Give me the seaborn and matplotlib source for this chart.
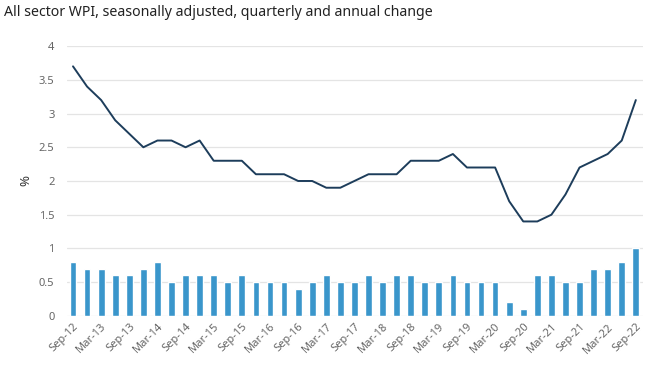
import numpy as np
import pandas as pd
import seaborn as sns
import matplotlib.pyplot as plt
from matplotlib.ticker import FuncFormatter

sns.set_theme(style="white")
plt.rcParams["font.family"] = ["Noto Sans", "DejaVu Sans"]

# quarters Sep-12 .. Sep-22
quarters = [
    "Sep-12", "Dec-12", "Mar-13", "Jun-13", "Sep-13", "Dec-13", "Mar-14", "Jun-14",
    "Sep-14", "Dec-14", "Mar-15", "Jun-15", "Sep-15", "Dec-15", "Mar-16", "Jun-16",
    "Sep-16", "Dec-16", "Mar-17", "Jun-17", "Sep-17", "Dec-17", "Mar-18", "Jun-18",
    "Sep-18", "Dec-18", "Mar-19", "Jun-19", "Sep-19", "Dec-19", "Mar-20", "Jun-20",
    "Sep-20", "Dec-20", "Mar-21", "Jun-21", "Sep-21", "Dec-21", "Mar-22", "Jun-22",
    "Sep-22",
]
quarterly_change = [
    0.8, 0.7, 0.7, 0.6, 0.6, 0.7, 0.8, 0.5, 0.6, 0.6, 0.6, 0.5, 0.6, 0.5, 0.5, 0.5,
    0.4, 0.5, 0.6, 0.5, 0.5, 0.6, 0.5, 0.6, 0.6, 0.5, 0.5, 0.6, 0.5, 0.5, 0.5, 0.2,
    0.1, 0.6, 0.6, 0.5, 0.5, 0.7, 0.7, 0.8, 1.0,
]
annual_change = [
    3.7, 3.4, 3.2, 2.9, 2.7, 2.5, 2.6, 2.6, 2.5, 2.6, 2.3, 2.3, 2.3, 2.1, 2.1, 2.1,
    2.0, 2.0, 1.9, 1.9, 2.0, 2.1, 2.1, 2.1, 2.3, 2.3, 2.3, 2.4, 2.2, 2.2, 2.2, 1.7,
    1.4, 1.4, 1.5, 1.8, 2.2, 2.3, 2.4, 2.6, 3.2,
]

df = pd.DataFrame({"quarter": quarters, "quarterly": quarterly_change,
                   "annual": annual_change})
df["pos"] = np.arange(len(df))

fig = plt.figure(figsize=(6.5, 3.66), dpi=100)
ax = fig.add_axes([0.103, 0.137, 0.886, 0.737])

sns.barplot(data=df, x="quarter", y="quarterly", color="#3a96cb",
            saturation=1, width=0.48, ax=ax, zorder=2)
sns.lineplot(data=df, x="pos", y="annual", color="#1d3d5b", linewidth=1.4,
             ax=ax, zorder=3)

ax.set_ylim(0, 4)
ax.set_xlim(-0.43, 40.5)
ax.set_yticks(np.arange(0, 4.01, 0.5))
ax.yaxis.set_major_formatter(FuncFormatter(lambda v, p: f"{v:g}"))
ax.yaxis.grid(True, color="#e4e4e4", linewidth=0.9, zorder=0)
ax.set_axisbelow(True)
for s in ax.spines.values():
    s.set_visible(False)

ax.set_xticks(df["pos"][::2])
ax.set_xticklabels(df["quarter"][::2], rotation=45, ha="right",
                   rotation_mode="anchor")
ax.tick_params(axis="both", colors="#666666", labelsize=8, length=0)
ax.tick_params(axis="y", pad=9)
ax.tick_params(axis="x", pad=4)

ax.set_xlabel("")
ax.set_ylabel("%", color="#333333", fontsize=9.5, labelpad=5)

fig.text(0.006, 0.965, "All sector WPI, seasonally adjusted, quarterly and annual change",
         fontsize=10.2, color="#222222", ha="left", va="center")

fig.savefig("out.png", dpi=100)
plt.close(fig)
